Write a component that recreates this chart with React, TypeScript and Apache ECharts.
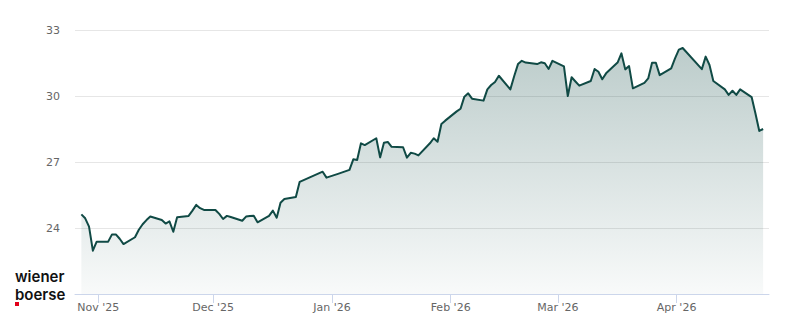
import React, { useEffect, useRef } from "react";
import * as echarts from "echarts";

const dates: string[] = [
  "2025-10-27", "2025-10-28", "2025-10-29", "2025-10-30", "2025-10-31",
  "2025-11-03", "2025-11-04", "2025-11-05", "2025-11-06", "2025-11-07",
  "2025-11-10", "2025-11-11", "2025-11-12", "2025-11-13", "2025-11-14",
  "2025-11-17", "2025-11-18", "2025-11-19", "2025-11-20", "2025-11-21",
  "2025-11-24", "2025-11-25", "2025-11-26", "2025-11-27", "2025-11-28",
  "2025-12-01", "2025-12-02", "2025-12-03", "2025-12-04", "2025-12-05",
  "2025-12-08", "2025-12-09", "2025-12-10", "2025-12-11", "2025-12-12",
  "2025-12-15", "2025-12-16", "2025-12-17", "2025-12-18", "2025-12-19",
  "2025-12-22", "2025-12-23", "2025-12-29", "2025-12-30",
  "2026-01-02", "2026-01-05", "2026-01-06", "2026-01-07", "2026-01-08", "2026-01-09",
  "2026-01-12", "2026-01-13", "2026-01-14", "2026-01-15", "2026-01-16",
  "2026-01-19", "2026-01-20", "2026-01-21", "2026-01-22", "2026-01-23",
  "2026-01-26", "2026-01-27", "2026-01-28", "2026-01-29", "2026-01-30",
  "2026-02-02", "2026-02-03", "2026-02-04", "2026-02-05", "2026-02-06",
  "2026-02-09", "2026-02-10", "2026-02-11", "2026-02-12", "2026-02-13",
  "2026-02-16", "2026-02-17", "2026-02-18", "2026-02-19", "2026-02-20",
  "2026-02-23", "2026-02-24", "2026-02-25", "2026-02-26", "2026-02-27",
  "2026-03-02", "2026-03-03", "2026-03-04", "2026-03-05", "2026-03-06",
  "2026-03-09", "2026-03-10", "2026-03-11", "2026-03-12", "2026-03-13",
  "2026-03-16", "2026-03-17", "2026-03-18", "2026-03-19", "2026-03-20",
  "2026-03-23", "2026-03-24", "2026-03-25", "2026-03-26", "2026-03-27",
  "2026-03-30", "2026-03-31", "2026-04-01", "2026-04-02",
  "2026-04-07", "2026-04-08", "2026-04-09", "2026-04-10",
  "2026-04-13", "2026-04-14", "2026-04-15", "2026-04-16", "2026-04-17",
  "2026-04-20", "2026-04-21", "2026-04-22", "2026-04-23",
];

const prices: number[] = [
  24.62, 24.44, 24.06, 22.97, 23.38,
  23.38, 23.71, 23.71, 23.51, 23.27,
  23.58, 23.92, 24.17, 24.36, 24.52,
  24.36, 24.2, 24.3, 23.83, 24.49,
  24.55, 24.79, 25.05, 24.9, 24.82,
  24.82, 24.64, 24.41, 24.55, 24.5,
  24.33, 24.52, 24.55, 24.56, 24.26,
  24.55, 24.79, 24.47, 25.15, 25.32,
  25.41, 26.1, 26.56, 26.29,
  26.46, 26.64, 27.12, 27.09, 27.85, 27.77,
  28.08, 27.21, 27.88, 27.91, 27.69,
  27.67, 27.2, 27.42, 27.38, 27.3,
  27.85, 28.08, 27.92, 28.73, 28.88,
  29.3, 29.42, 29.97, 30.12, 29.88,
  29.79, 30.3, 30.5, 30.64, 30.92,
  30.3, 30.9, 31.45, 31.6, 31.52,
  31.45, 31.53, 31.49, 31.23, 31.6,
  31.35, 30.0, 30.85, 30.66, 30.47,
  30.68, 31.23, 31.1, 30.76, 31.03,
  31.52, 31.94, 31.21, 31.36, 30.35,
  30.6, 30.8, 31.51, 31.51, 30.95,
  31.26, 31.71, 32.11, 32.18,
  31.22, 31.79, 31.41, 30.68,
  30.3, 30.05, 30.24, 30.05, 30.3,
  29.95, 29.2, 28.41, 28.5,
];

const monthTicks: string[] = [
  "2025-11-01", "2025-12-01", "2026-01-01", "2026-02-01", "2026-03-01", "2026-04-01",
];
const monthNames: string[] = [
  "Jan", "Feb", "Mar", "Apr", "May", "Jun", "Jul", "Aug", "Sep", "Oct", "Nov", "Dec",
];

const Y_MIN = 21;
const Y_MAX = 33;
const Y_STEP = 3;

const DAY = 86400000;

function toTs(s: string, hour = 0): number {
  const [y, m, d] = s.split("-").map(Number);
  return Date.UTC(y, m - 1, d, hour);
}

export default function App() {
  const ref = useRef<HTMLDivElement>(null);

  useEffect(() => {
    if (!ref.current) return;
    const chart = echarts.init(ref.current, undefined, { renderer: "svg" });
    const monthTs = monthTicks.map((m) => toTs(m));
    const xMin = toTs("2025-11-01") - 6.08 * DAY;
    const xMax = xMin + 181.2 * DAY;
    const font = "'DejaVu Sans', sans-serif";
    const lineColor = "#104a45";

    chart.setOption({
      animation: false,
      grid: { left: 75, right: 31, top: 30, bottom: 30, containLabel: false },
      xAxis: {
        type: "value",
        min: xMin,
        max: xMax,
        axisLine: { show: true, lineStyle: { color: "#ccd6eb", width: 1 } },
        axisTick: {
          show: true,
          customValues: monthTs,
          length: 9,
          lineStyle: { color: "#ccd6eb", width: 1 },
        },
        axisLabel: {
          customValues: monthTs,
          color: "#666666",
          fontSize: 11,
          fontFamily: font,
          margin: 8,
          formatter: (v: number) => {
            const d = new Date(v);
            return monthNames[d.getUTCMonth()] + " '" + String(d.getUTCFullYear()).slice(2);
          },
        },
        splitLine: { show: false },
      },
      yAxis: {
        type: "value",
        min: Y_MIN,
        max: Y_MAX,
        interval: Y_STEP,
        axisLine: { show: false },
        axisTick: { show: false },
        axisLabel: {
          showMinLabel: false,
          color: "#666666",
          fontSize: 11,
          fontFamily: font,
          margin: 15,
        },
        splitLine: { lineStyle: { color: "#e6e6e6", width: 1 } },
      },
      series: [
        {
          type: "line",
          data: dates.map((d, i) => [toTs(d, 14), prices[i]]),
          showSymbol: false,
          symbol: "none",
          silent: true,
          lineStyle: { color: lineColor, width: 2, join: "round" },
          areaStyle: {
            color: new echarts.graphic.LinearGradient(0, 0, 0, 1, [
              { offset: 0, color: "rgba(16,74,69,0.40)" },
              { offset: 1, color: "rgba(16,74,69,0.04)" },
            ]),
          },
        },
      ],
      graphic: [
        {
          type: "text",
          left: 15,
          top: 266.9,
          style: {
            text: "wiener\nboerse",
            fill: "#111111",
            font: "600 15px Inter, sans-serif",
            lineHeight: 18.4,
          },
        },
        {
          type: "rect",
          shape: { x: 15, y: 302, width: 4, height: 4 },
          style: { fill: "#e2001a" },
        },
      ],
    });

    return () => chart.dispose();
  }, []);

  return (
    <div
      ref={ref}
      style={{ position: "fixed", left: 0, top: 0, width: 800, height: 324, background: "#ffffff" }}
    />
  );
}
